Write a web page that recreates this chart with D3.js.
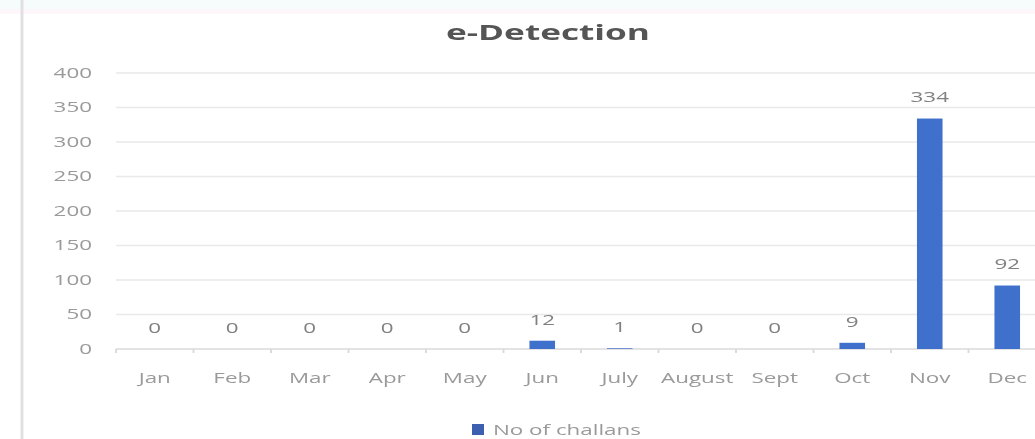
<!DOCTYPE html>
<html>
<head>
<meta charset="utf-8">
<script src="https://cdn.jsdelivr.net/npm/d3@7"></script>
<style>
  html, body { margin: 0; padding: 0; background: #ffffff; overflow: hidden; }
  svg { display: block; filter: blur(0.7px); }
</style>
</head>
<body>
<svg id="chart"></svg>
<script>
// ---- data ----
const months = ["Jan", "Feb", "Mar", "Apr", "May", "Jun", "July", "August", "Sept", "Oct", "Nov", "Dec"];
const challans = [0, 0, 0, 0, 0, 12, 1, 0, 0, 9, 334, 92];
const yTicks = [0, 50, 100, 150, 200, 250, 300, 350, 400];
const chartTitle = "e-Detection";
const seriesName = "No of challans";

// ---- layout (screenshot is horizontally stretched) ----
const W = 1035, H = 439, S = 1.6;
const IW = W / S;
const svg = d3.select("#chart")
  .attr("width", W).attr("height", H)
  .attr("viewBox", `0 0 ${IW} ${H}`)
  .attr("preserveAspectRatio", "none");

// top band and left border
svg.append("rect").attr("x", 0).attr("y", 0).attr("width", IW).attr("height", 9).attr("fill", "#f6fcfb");
svg.append("rect").attr("x", 0).attr("y", 9).attr("width", IW).attr("height", 5).attr("fill", "#fdf6fa");
svg.append("line").attr("x1", 22 / S).attr("x2", 22 / S).attr("y1", 0).attr("y2", H)
  .attr("stroke", "#e0e0e0").attr("stroke-width", 1.8);

const x = d3.scaleBand().domain(months).range([116 / S, 1046 / S])
  .paddingInner(0.67).paddingOuter(0.335);
const xb = d3.scaleBand().domain(months).range([116 / S, 1046 / S]).padding(0);
const y = d3.scaleLinear().domain([0, 400]).range([349, 73]);

const font = "'Open Sans', 'DejaVu Sans', sans-serif";
const tickGray = "#9a9a9a";

// gridlines
svg.append("g").selectAll("line").data(yTicks.filter(d => d > 0)).join("line")
  .attr("x1", 116 / S).attr("x2", IW)
  .attr("y1", d => y(d)).attr("y2", d => y(d))
  .attr("stroke", "#e9e9e9").attr("stroke-width", 1.6);

// y labels
svg.append("g").selectAll("text").data(yTicks).join("text")
  .attr("x", 92 / S).attr("y", d => y(d)).attr("dy", "0.35em")
  .attr("text-anchor", "end")
  .attr("font-family", font).attr("font-size", 14).attr("fill", tickGray)
  .text(d => d);

// x axis line with ticks at category boundaries
svg.append("line").attr("x1", 116 / S).attr("x2", IW).attr("y1", y(0)).attr("y2", y(0))
  .attr("stroke", "#dadada").attr("stroke-width", 1.6);
svg.append("g").selectAll("line").data(months).join("line")
  .attr("x1", d => xb(d)).attr("x2", d => xb(d))
  .attr("y1", y(0)).attr("y2", y(0) + 4)
  .attr("stroke", "#dadada").attr("stroke-width", 1.2);

// x labels
svg.append("g").selectAll("text").data(months).join("text")
  .attr("x", d => xb(d) + xb.bandwidth() / 2).attr("y", 378).attr("dy", "0.35em")
  .attr("text-anchor", "middle")
  .attr("font-family", font).attr("font-size", 14).attr("fill", tickGray)
  .text(d => d);

// bars
const data = months.map((m, i) => ({ m, v: challans[i] }));
svg.append("g").selectAll("rect").data(data).join("rect")
  .attr("x", d => x(d.m)).attr("width", x.bandwidth())
  .attr("y", d => y(d.v)).attr("height", d => y(0) - y(d.v))
  .attr("fill", "#3f70cc");

// data labels
svg.append("g").selectAll("text").data(data).join("text")
  .attr("x", d => x(d.m) + x.bandwidth() / 2).attr("y", d => y(d.v) - 21).attr("dy", "0.35em")
  .attr("text-anchor", "middle")
  .attr("font-family", font).attr("font-size", 14).attr("fill", "#808080")
  .text(d => d.v);

// title
svg.append("text").attr("x", 548 / S).attr("y", 32).attr("dy", "0.35em")
  .attr("text-anchor", "middle")
  .attr("font-family", font).attr("font-size", 22).attr("font-weight", "bold")
  .attr("fill", "#555555")
  .text(chartTitle);

// legend
const lg = svg.append("g");
lg.append("rect").attr("x", 472 / S).attr("y", 424).attr("width", 12 / S).attr("height", 11)
  .attr("fill", "#3d5fb0");
lg.append("text").attr("x", 493 / S).attr("y", 430).attr("dy", "0.35em")
  .attr("font-family", font).attr("font-size", 14).attr("fill", tickGray)
  .text(seriesName);
</script>
</body>
</html>
